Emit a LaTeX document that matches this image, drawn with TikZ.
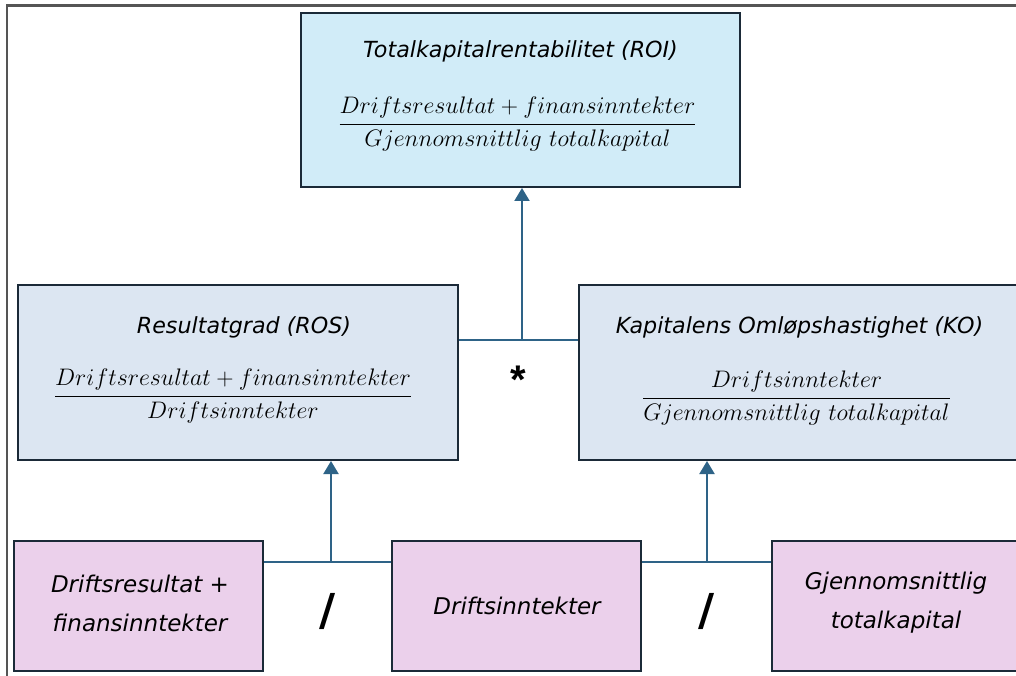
\RequirePackage{fix-cm}
\documentclass[tikz,border=0pt]{standalone}
\usepackage{fontspec}
\setmainfont{DejaVu Sans}
\newfontfamily\opfont{Liberation Sans}
\usetikzlibrary{arrows.meta}
\definecolor{roifill}{HTML}{D1ECF8}
\definecolor{midfill}{HTML}{DCE6F2}
\definecolor{botfill}{HTML}{EBD0EB}
\definecolor{boxline}{HTML}{1B2A38}
\definecolor{connline}{HTML}{2E6387}
\definecolor{framegray}{HTML}{555555}
\begin{document}
\begin{tikzpicture}[x=1pt,y=-1pt,
  box/.style={draw=boxline, line width=2pt, inner sep=0pt},
  topbox/.style={box, fill=roifill, minimum width=439pt, minimum height=174pt},
  midbox/.style={box, fill=midfill, minimum width=440pt, minimum height=175pt},
  botbox/.style={box, fill=botfill, minimum width=249pt, minimum height=130pt},
  title/.style={font=\fontsize{22.2}{27}\selectfont\itshape, inner sep=0pt},
  frac/.style={font=\fontsize{23.9}{28}\selectfont, inner sep=0pt, anchor=base},
  bottext/.style={font=\fontsize{23}{39}\selectfont\itshape, align=center, inner sep=0pt},
  conn/.style={draw=connline, line width=2pt},
  arr/.style={conn, -{Triangle[width=15pt,length=13pt]}},
  op/.style={inner sep=0pt, text=black}
]
\clip (0,0) rectangle (1016,676);
\fill[white] (0,0) rectangle (1016,676);
% frame
\draw[framegray, line width=2.2pt] (7,676) -- (7,5.5) -- (1016,5.5);

% boxes
\node[topbox] (roi) at (520.5,100) {};
\node[midbox] (ros) at (238,372.5) {};
\node[midbox] (ko) at (799,372.5) {};
\node[botbox] (drs) at (138.5,606) {};
\node[botbox] (di) at (516.5,606) {};
\node[botbox] (gtk) at (896.5,606) {};

% box texts
\node[title] (roiT) at (520.5,51) {Totalkapitalrentabilitet (ROI)};
\node[frac] (roiF) at (517.5,130) {$\displaystyle\frac{Driftsresultat+finansinntekter}{Gjennomsnittlig\ totalkapital}$};
\node[title] (rosT) at (244,327) {Resultatgrad (ROS)};
\node[frac] (rosF) at (233,402) {$\displaystyle\frac{Driftsresultat+finansinntekter}{Driftsinntekter}$};
\node[title] (koT) at (799.5,327) {Kapitalens Omløpshastighet (KO)};
\node[frac] (koF) at (796.5,404) {$\displaystyle\frac{Driftsinntekter}{Gjennomsnittlig\ totalkapital}$};
\node[bottext] (drsT) at (140,603) {Driftsresultat +\\finansinntekter};
\node[bottext] (diT) at (517,606) {Driftsinntekter};
\node[bottext] (gtkT) at (896,603) {Gjennomsnittlig\\totalkapital};

% connectors
\coordinate (j1) at (522,340);
\coordinate (j2) at (331,561.5);
\coordinate (j3) at (707,561.5);
\draw[conn] (ros.east |- j1) -- (ko.west |- j1);
\draw[arr] (j1) -- (roi.south -| j1);
\draw[conn] (drs.east |- j2) -- (di.west |- j2);
\draw[arr] (j2) -- (ros.south -| j2);
\draw[conn] (di.east |- j3) -- (gtk.west |- j3);
\draw[arr] (j3) -- (ko.south -| j3);

% operators
\node[op, font=\opfont\fontsize{40}{40}\selectfont\bfseries] (mul) at (518,380) {*};
\node[op, font=\fontsize{44}{44}\selectfont\bfseries] (div1) at (327.5,611) {/};
\node[op, font=\fontsize{44}{44}\selectfont\bfseries] (div2) at (706.5,611) {/};
\end{tikzpicture}
\end{document}
